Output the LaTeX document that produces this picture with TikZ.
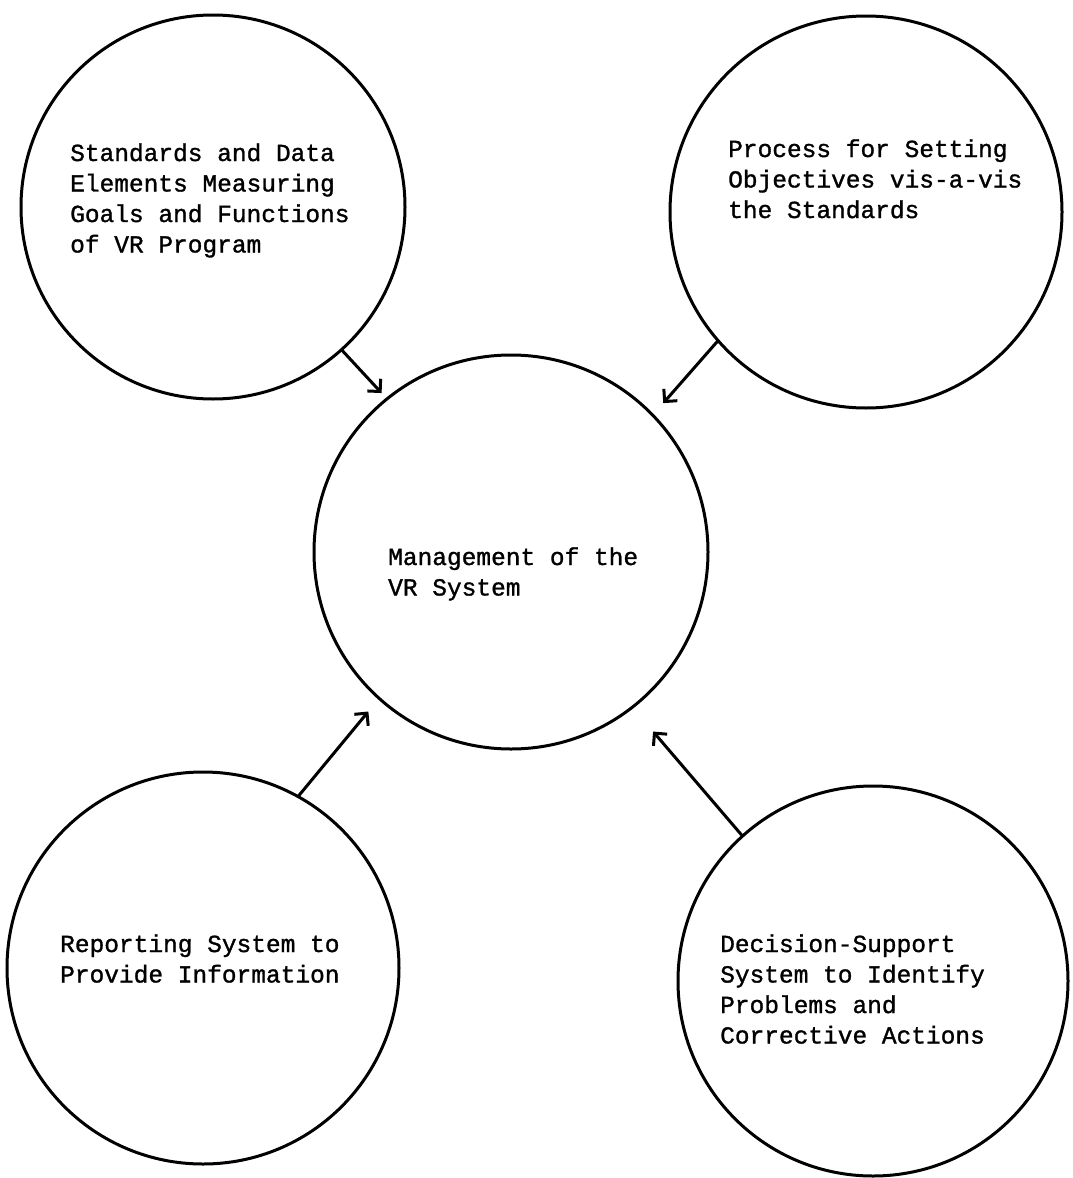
\documentclass[tikz,border=0pt]{standalone}
\usepackage{fontspec}
\newfontfamily\typewriter{Liberation Mono}[FakeBold=1.2]
\usetikzlibrary{arrows.meta}
\begin{document}
\begin{tikzpicture}[x=1pt,y=-1pt,
  ring/.style={circle, draw, line width=3pt, inner sep=0pt, outer sep=0pt},
  txt/.style={anchor=base west, align=left, inner sep=0pt, font=\typewriter\fontsize{24.5}{30.5}\selectfont},
  arr/.style={line width=3pt, -{Straight Barb[length=9pt,width=18pt]}}]
\useasboundingbox (0,0) rectangle (1073,1178);
\node[ring, minimum size=384pt] (tl) at (213,207) {};
\node[ring, minimum size=392pt] (tr) at (866,212) {};
\node[ring, minimum size=394pt] (c) at (511,552) {};
\node[ring, minimum size=392pt] (bl) at (203,968) {};
\node[ring, minimum size=390pt] (br) at (873,981) {};
% base anchor = baseline of the last line
\node[txt] (tltext) at (70,252.5) {Standards and Data\\Elements Measuring\\Goals and Functions\\of VR Program};
\node[txt] (trtext) at (728,218) {Process for Setting\\Objectives vis-a-vis\\the Standards};
\node[txt] (ctext) at (388,595.5) {Management of the\\VR System};
\node[txt] (bltext) at (60,982.5) {Reporting System to\\Provide Information};
\node[txt] (brtext) at (720,1043.5) {Decision-Support\\System to Identify\\Problems and\\Corrective Actions};
\draw[arr, shorten >=8pt] (tl.312.7) -- (c.129.1);
\draw[arr, shorten >=16pt] (tr.221.3) -- (c.44.6);
\draw[arr, shorten >=17pt] (bl.61.9) -- (c.228.8);
\draw[arr, shorten >=32pt] (br.132.3) -- (c.308.3);
\end{tikzpicture}
\end{document}
